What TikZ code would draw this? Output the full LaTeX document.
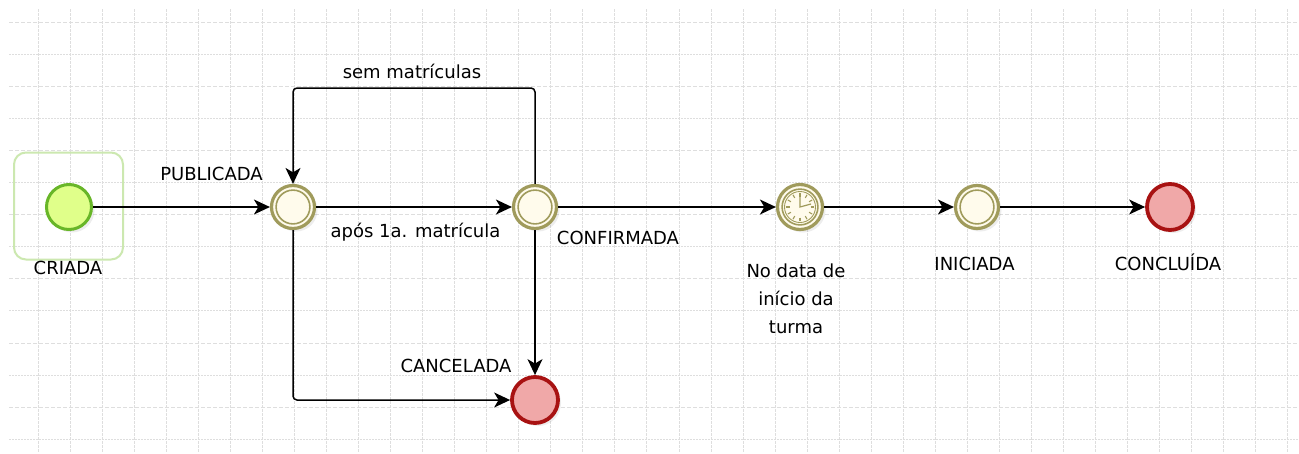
\documentclass[tikz,border=0pt]{standalone}
\usepackage{fontspec}
\setmainfont{DejaVu Sans}
\usetikzlibrary{positioning}
\usetikzlibrary{arrows.meta,shadows}

\definecolor{gridgray}{RGB}{222,222,222}
\definecolor{evolive}{RGB}{160,155,92}
\definecolor{evcream}{RGB}{255,251,236}
\definecolor{endred}{RGB}{168,18,18}
\definecolor{endpink}{RGB}{240,168,168}
\definecolor{startgreen}{RGB}{104,182,40}
\definecolor{startlime}{RGB}{224,255,138}
\definecolor{boxgreen}{RGB}{204,232,176}

\begin{document}
\begin{tikzpicture}[
                x=1pt, y=-1pt,
                txt/.style = {
                    font=\fontsize{18}{28}\selectfont,
                    inner sep = 0pt,
                    anchor = base
                },
                flow/.style = {
                    line width = 1.5pt,
                    -{Stealth[length=16pt, width=15pt, inset=4.5pt]}
                },
                ev/.style = {
                    circle,
                    inner sep = 0pt,
                    minimum size = #1,
                    drop shadow = {shadow xshift=3pt, shadow yshift=-3pt, opacity=0.14}
                },
                ev/.default = 44pt,
                startev/.style = {ev=45pt, draw=startgreen, fill=startlime, line width=3pt},
                midev/.style = {ev=#1, draw=evolive, fill=evcream, line width=3.2pt,
                    path picture = {\draw[evolive, line width=1.6pt]
                        (path picture bounding box.center) circle ({#1/2-4.6pt});}},
                midev/.default = 43pt,
                endev/.style = {ev=46pt, draw=endred, fill=endpink, line width=3.8pt},
                gridh/.style = {gridgray, line width=1pt, dash pattern=on 4pt off 2pt},
                gridd/.style = {gridgray, line width=1pt, dash pattern=on 1.5pt off 1.5pt},
                gridv/.style = {gridgray, line width=1pt, dash pattern=on 2.5pt off 1.5pt}
            ]
            \useasboundingbox[fill=white] (0,0) rectangle (1299,453);
            % grid
            \foreach \i in {0,...,39}
                \draw[gridv] ({38+32.05*\i},9) -- ({38+32.05*\i},453);
            \foreach \j in {0,2,...,12}
                \draw[gridh] (9,{22+32.1*\j}) -- (1299,{22+32.1*\j});
            \foreach \j in {1,3,...,13}
                \draw[gridd] (9,{22+32.1*\j}) -- (1299,{22+32.1*\j});
            %
            \node[draw=boxgreen, line width=2pt, rounded corners=12pt,
                  minimum width=109pt, minimum height=107pt] (criadabox) at (68.5,206) {};
            %
            \node[startev] (criada) at (69,207) {};
            \node[midev] (publicada) at (293,207) {};
            \node[midev] (confirmada) at (535,207) {};
            \node[midev=45pt] (turma) at (800,207) {};
            \node[midev] (iniciada) at (977,207) {};
            \node[endev] (concluida) at (1170,207) {};
            \node[endev] (cancelada) at (535,400) {};
            % clock
            \begin{scope}[shift={(turma.center)}, evolive]
                \draw[line width=0.9pt] (0,0) circle (15.5);
                \foreach \a in {0,30,...,330}
                    \draw[line width=1.1pt] (\a:10.5) -- (\a:14);
                \draw[line width=1.2pt] (0,-10) -- (0,0) -- (11,-3);
            \end{scope}
            %
            \node[txt] (criadalbl) at (68,274) {CRIADA};
            \node[txt] (publbl) at (211.5,180) {PUBLICADA};
            \node[txt] (semlbl) at (412,78) {sem matrículas};
            \node[txt] (aposlbl) at (415.5,237) {após 1a. matrícula};
            \node[txt] (conflbl) at (618,244) {CONFIRMADA};
            \node[txt] (canclbl) at (456,372) {CANCELADA};
            \node[txt, anchor=north, align=center] (turmalbl) at (796,263.5) {No data de\\início da\\turma};
            \node[txt] (inilbl) at (974.5,270) {INICIADA};
            \node[txt] (conclbl) at (1168,270) {CONCLUÍDA};
            %
            \coordinate (looptop) at (0,88);
            %
            \draw[flow] (criada) -- (publicada);
            \draw[flow] (publicada) -- (confirmada);
            \draw[flow] (confirmada) -- (turma);
            \draw[flow] (turma) -- (iniciada);
            \draw[flow] (iniciada) -- (concluida);
            \draw[flow, rounded corners=4pt] (confirmada.north) -- (confirmada |- looptop)
                -- (publicada |- looptop) -- (publicada.north);
            \draw[flow, rounded corners=4pt] (publicada.south) |- (cancelada.west);
            \draw[flow] (confirmada.south) -- (cancelada.north);
            %
        \end{tikzpicture}
\end{document}
